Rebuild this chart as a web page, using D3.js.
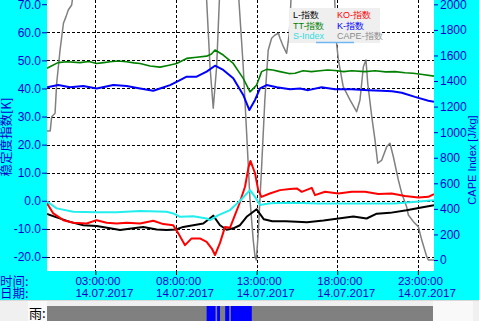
<!DOCTYPE html>
<html><head><meta charset="utf-8">
<script src="https://cdn.jsdelivr.net/npm/d3@7"></script>
<style>html,body{margin:0;padding:0;background:#f0f0f0;overflow:hidden}</style>
</head><body><svg id="c" width="479" height="321"></svg>
<script>
// ---- data (hours of 14.07.2017) ----
const xTicks = [3, 8, 13, 18, 23];
const xTimeLabels = ["03:00:00", "08:00:00", "13:00:00", "18:00:00", "23:00:00"];
const xDateLabels = ["14.07.2017", "14.07.2017", "14.07.2017", "14.07.2017", "14.07.2017"];
const leftTicks = [70, 60, 50, 40, 30, 20, 10, 0, -10, -20];
const gridValues = [60, 50, 40, 30, 20, 10, 0, -10, -20];
const rightTicks = [0, 200, 400, 600, 800, 1000, 1200, 1400, 1600, 1800, 2000];
const legendNames = ["L-指数", "KO-指数", "TT-指数", "K-指数", "S-Index", "CAPE-指数"];

const ttT = [0, 0.68, 1.22, 2.05, 2.6, 3.08, 3.5, 3.91, 4.4, 4.94, 5.4, 5.77, 6.39, 7.01, 7.5, 8.04, 8.66, 9.28, 9.9, 10.2, 10.42, 10.93, 11.55, 12.17, 12.59, 13.0, 13.31, 13.62, 14.0, 14.45, 15.0, 15.38, 15.88, 16.4, 16.93, 17.4, 17.86, 18.4, 18.9, 19.72, 20.34, 21.0, 21.58, 22.2, 22.7, 23.3, 24.0];
const ttV = [47.2, 49.2, 49.5, 49.2, 49.6, 48.9, 49.2, 49.5, 49.8, 49.5, 49.1, 48.9, 48.0, 47.6, 48.2, 48.9, 50.7, 51.1, 51.5, 52.3, 53.7, 51.9, 48.9, 43.6, 38.8, 41.2, 46.0, 46.8, 46.6, 46.0, 45.3, 45.4, 46.3, 46.0, 46.3, 46.6, 46.4, 46.0, 46.3, 46.0, 46.3, 45.9, 46.0, 45.6, 45.4, 45.0, 44.4];

const kT = [0, 0.7, 1.43, 2.25, 3.08, 3.6, 4.11, 4.94, 5.77, 6.59, 7.01, 7.63, 8.25, 8.66, 9.28, 9.9, 10.42, 10.93, 11.55, 12.17, 12.55, 12.9, 13.21, 13.62, 14.25, 15.07, 15.69, 16.2, 17.03, 17.86, 18.9, 19.93, 20.76, 21.4, 22.0, 22.82, 23.65, 24.0];
const kV = [40.4, 41.2, 40.4, 40.9, 40.0, 40.6, 41.2, 40.9, 40.0, 39.2, 40.0, 41.2, 43.0, 44.2, 44.2, 46.0, 48.1, 46.6, 43.6, 37.7, 32.3, 35.9, 40.0, 41.2, 40.4, 39.7, 40.0, 39.4, 40.4, 39.7, 39.7, 39.4, 39.2, 39.0, 38.5, 37.0, 35.6, 35.3];

const koT = [0, 0.39, 1.01, 1.63, 2.46, 3.08, 3.7, 4.32, 4.94, 5.77, 6.59, 7.21, 7.83, 8.14, 8.56, 8.97, 9.48, 9.9, 10.22, 10.42, 10.73, 11.04, 11.35, 11.66, 11.9, 12.28, 12.5, 12.62, 12.9, 13.1, 13.3, 13.82, 14.45, 15.07, 15.49, 15.8, 16.42, 16.62, 17.24, 18.07, 18.9, 19.72, 20.55, 21.37, 22.2, 23.03, 23.65, 24.0];
const koV = [-0.9, -4.5, -6.9, -7.8, -8.1, -6.9, -7.8, -8.1, -7.8, -8.1, -7.1, -8.3, -8.7, -11.6, -15.8, -13.4, -13.4, -14.6, -17.0, -19.3, -15.0, -9.3, -9.6, -5.0, -1.5, 5.0, 12.0, 14.2, 9.8, 3.8, 1.4, 2.6, 3.8, 4.2, 4.4, 3.2, 4.6, 2.0, 3.2, 2.6, 3.2, 3.2, 2.4, 2.6, 1.7, 1.2, 1.4, 2.4];

const sT = [0, 0.6, 1.63, 3.08, 4.32, 5.77, 7.42, 7.83, 8.25, 9.07, 9.9, 10.11, 10.6, 11.35, 11.97, 12.59, 12.9, 13.21, 13.83, 15.07, 16.9, 19.5, 21.58, 23.63, 24.0];
const sV = [-0.3, -2.7, -3.9, -4.1, -4.1, -3.6, -3.9, -4.5, -5.7, -5.5, -6.3, -6.9, -5.2, -3.3, 0.0, 3.8, 1.4, -1.5, -0.9, -0.7, -1.0, -1.0, -1.0, 0.0, 0.2];

const lT = [0, 0.6, 1.43, 2.25, 3.08, 3.91, 4.53, 5.35, 5.97, 6.8, 7.42, 8.0, 8.45, 9.07, 9.69, 10.31, 10.73, 11.14, 11.55, 11.97, 12.38, 13.0, 13.45, 13.97, 14.8, 15.5, 16.12, 17.15, 17.96, 19.0, 19.82, 20.45, 21.27, 22.3, 23.13, 24.0];
const lV = [-4.7, -5.9, -7.5, -8.7, -9.0, -9.8, -10.4, -9.8, -9.3, -10.2, -10.4, -10.2, -9.3, -8.7, -8.1, -5.3, -8.7, -10.3, -9.8, -8.7, -5.7, -3.0, -6.6, -7.3, -7.3, -7.5, -7.6, -7.0, -6.4, -5.6, -6.3, -4.6, -4.3, -3.4, -2.5, -1.6];

const capeT = [0, 0.2, 0.29, 0.5, 0.6, 0.81, 1.02, 1.18, 1.32, 1.53, 1.7, 2.5, 8.0, 9.8, 9.9, 10.11, 10.31, 10.52, 10.69, 10.8, 11.0, 11.8, 11.9, 12.17, 12.38, 12.59, 12.79, 12.9, 12.98, 13.1, 13.31, 13.51, 13.72, 13.93, 14.14, 14.35, 14.45, 14.66, 14.86, 15.03, 15.13, 15.3, 17.5, 17.8, 17.96, 18.07, 18.37, 18.79, 19.2, 19.41, 19.62, 19.78, 19.89, 20.14, 20.34, 20.51, 20.76, 21.07, 21.27, 21.48, 21.79, 22.0, 22.3, 22.41, 22.72, 23.03, 23.24, 23.55, 23.65, 24.0];
const capeV = [1010, 1010, 1121, 1148, 1383, 1643, 1852, 1904, 1956, 1995, 2150, 2600, 2600, 2250, 2034, 1512, 1187, 1512, 2034, 2300, 2500, 2250, 2034, 1512, 993, 469, 156, 26, 0, 211, 730, 1252, 1643, 1735, 1760, 1774, 1735, 1669, 1617, 1776, 2034, 2400, 2400, 2150, 1695, 1565, 1356, 1252, 1160, 1252, 1512, 1565, 1383, 1121, 939, 757, 782, 887, 913, 808, 626, 522, 417, 352, 300, 261, 156, 26, 0, 0];

const rainStart = [9.9, 10.55, 11.05, 11.4];
const rainEnd = [10.45, 10.73, 11.3, 12.7];

// ---- drawing ----
const svg = d3.select("#c");
const W = 479, H = 321;
const L = 47, R = 434, T = 0, B = 271;
const x = d3.scaleLinear().domain([0, 24]).range([L, R]);
const yL = d3.scaleLinear().domain([-25, 71.5]).range([B, T]);
const yR = d3.scaleLinear().domain([-86, 2034]).range([B, T]);
const BLUE = "#0000cd";
const FONT = "'Liberation Sans', Arial, sans-serif";
const CJK = "'Noto Sans CJK SC', sans-serif";

svg.append("rect").attr("x", 0).attr("y", 0).attr("width", W).attr("height", 300).attr("fill", "#00ffff");
svg.append("rect").attr("x", 0).attr("y", 300).attr("width", W).attr("height", 21).attr("fill", "#f0f0f0");
svg.append("rect").attr("x", 28).attr("y", 301).attr("width", 19).attr("height", 20).attr("fill", "#f9f9f9");
svg.append("rect").attr("x", 433).attr("y", 301).attr("width", 40).attr("height", 20).attr("fill", "#f9f9f9");
svg.append("line").attr("x1", 0).attr("x2", W).attr("y1", 300.5).attr("y2", 300.5).attr("stroke", "#d8d8d8");
svg.append("rect").attr("x", L).attr("y", T).attr("width", R - L).attr("height", B - T).attr("fill", "#ffffff");

svg.append("defs").append("clipPath").attr("id", "pc")
  .append("rect").attr("x", L).attr("y", T).attr("width", R - L).attr("height", B - T);

// grid
const grid = svg.append("g").attr("stroke", "#000").attr("stroke-width", 1).attr("stroke-dasharray", "3,2");
grid.selectAll("line.h").data(gridValues).join("line").attr("class", "h")
  .attr("x1", L).attr("x2", R).attr("y1", d => Math.round(yL(d)) + 0.5).attr("y2", d => Math.round(yL(d)) + 0.5);
grid.selectAll("line.v").data(xTicks).join("line").attr("class", "v")
  .attr("y1", T).attr("y2", B).attr("x1", d => Math.round(x(d)) + 0.5).attr("x2", d => Math.round(x(d)) + 0.5);

// axes
const axL = svg.append("g").attr("transform", `translate(${L},0)`)
  .call(d3.axisLeft(yL).tickValues(leftTicks).tickFormat(d => d.toFixed(1)).tickSize(5).tickPadding(1));
axL.select(".domain").remove();
axL.selectAll("line").attr("stroke", BLUE);
axL.selectAll("text").attr("fill", BLUE).attr("font-family", FONT).attr("font-size", 12);

const axR = svg.append("g").attr("transform", `translate(${R},0)`)
  .call(d3.axisRight(yR).tickValues(rightTicks).tickFormat(d3.format("d")).tickSize(4).tickPadding(2));
axR.select(".domain").remove();
axR.selectAll("line").attr("stroke", BLUE);
axR.selectAll("text").attr("fill", BLUE).attr("font-family", FONT).attr("font-size", 12);

const axB = svg.append("g").attr("transform", `translate(0,${B})`)
  .call(d3.axisBottom(x).tickValues(xTicks).tickFormat("").tickSize(4));
axB.select(".domain").remove();
axB.selectAll("line").attr("stroke", "#000");

svg.selectAll("text.tl").data(xTicks).join("text").attr("class", "tl")
  .attr("x", d => x(d) - 20).attr("y", 284.8).text((d, i) => xTimeLabels[i])
  .attr("fill", BLUE).attr("font-family", FONT).attr("font-size", 11.6);
svg.selectAll("text.dl").data(xTicks).join("text").attr("class", "dl")
  .attr("x", d => x(d) - 20).attr("y", 297.4).text((d, i) => xDateLabels[i])
  .attr("fill", BLUE).attr("font-family", FONT).attr("font-size", 11.6);
svg.append("text").attr("x", 0).attr("y", 285.5).text("时间:").attr("fill", BLUE).attr("font-family", CJK).attr("font-size", 12.5);
svg.append("text").attr("x", 0).attr("y", 298).text("日期:").attr("fill", BLUE).attr("font-family", CJK).attr("font-size", 12.5);

svg.append("text").attr("transform", "translate(6.8,137) rotate(-90)").attr("text-anchor", "middle").attr("dy", "0.35em")
  .text("稳定度指数[K]").attr("fill", BLUE).attr("font-family", CJK).attr("font-size", 12.5);
svg.append("text").attr("transform", "translate(472,160) rotate(-90)").attr("text-anchor", "middle").attr("dy", "0.35em")
  .text("CAPE Index [J/kg]").attr("fill", BLUE).attr("font-family", FONT).attr("font-size", 11);

// series
const zip = (a, b) => a.map((t, i) => [t, b[i]]);
const lineL = d3.line().x(d => x(d[0])).y(d => yL(d[1]));
const lineR = d3.line().x(d => x(d[0])).y(d => yR(d[1]));
const plot = svg.append("g").attr("clip-path", "url(#pc)").attr("fill", "none").attr("stroke-linejoin", "round");
plot.append("path").attr("d", lineR(zip(capeT, capeV))).attr("stroke", "#808080").attr("stroke-width", 1.5);
plot.append("path").attr("d", lineL(zip(lT, lV))).attr("stroke", "#000000").attr("stroke-width", 2);
plot.append("path").attr("d", lineL(zip(koT, koV))).attr("stroke", "#ff0000").attr("stroke-width", 2);
plot.append("path").attr("d", lineL(zip(ttT, ttV))).attr("stroke", "#008000").attr("stroke-width", 1.6);
plot.append("path").attr("d", lineL(zip(kT, kV))).attr("stroke", "#0000ff").attr("stroke-width", 2);
plot.append("path").attr("d", lineL(zip(sT, sV))).attr("stroke", "#22eeee").attr("stroke-width", 2);

// legend
const lg = svg.append("g");
lg.append("rect").attr("x", 289).attr("y", 8).attr("width", 91).attr("height", 35).attr("fill", "#efefef");
const legColors = ["#000000", "#ff0000", "#008000", "#0000ff", "#33dddd", "#8c8c8c"];
lg.selectAll("text").data(legendNames).join("text")
  .attr("x", (d, i) => i % 2 === 0 ? 293 : 337)
  .attr("y", (d, i) => 18 + Math.floor(i / 2) * 10.7)
  .text(d => d).attr("fill", (d, i) => legColors[i])
  .attr("font-family", FONT).attr("font-size", 9);
lg.append("line").attr("x1", 316).attr("x2", 354).attr("y1", 42.5).attr("y2", 42.5).attr("stroke", "#6fb6f2").attr("stroke-width", 1.5);

// rain bar
svg.append("text").attr("x", 29).attr("y", 318).text("雨:").attr("fill", "#000").attr("font-family", CJK).attr("font-size", 13);
svg.append("rect").attr("x", x(0)).attr("y", 306).attr("width", x(24) - x(0) - 1).attr("height", 15).attr("fill", "#808080");
svg.selectAll("rect.rain").data(rainStart).join("rect").attr("class", "rain")
  .attr("x", d => x(d)).attr("y", 306).attr("width", (d, i) => x(rainEnd[i]) - x(d)).attr("height", 15).attr("fill", "#0000ff");
</script>
</body></html>
